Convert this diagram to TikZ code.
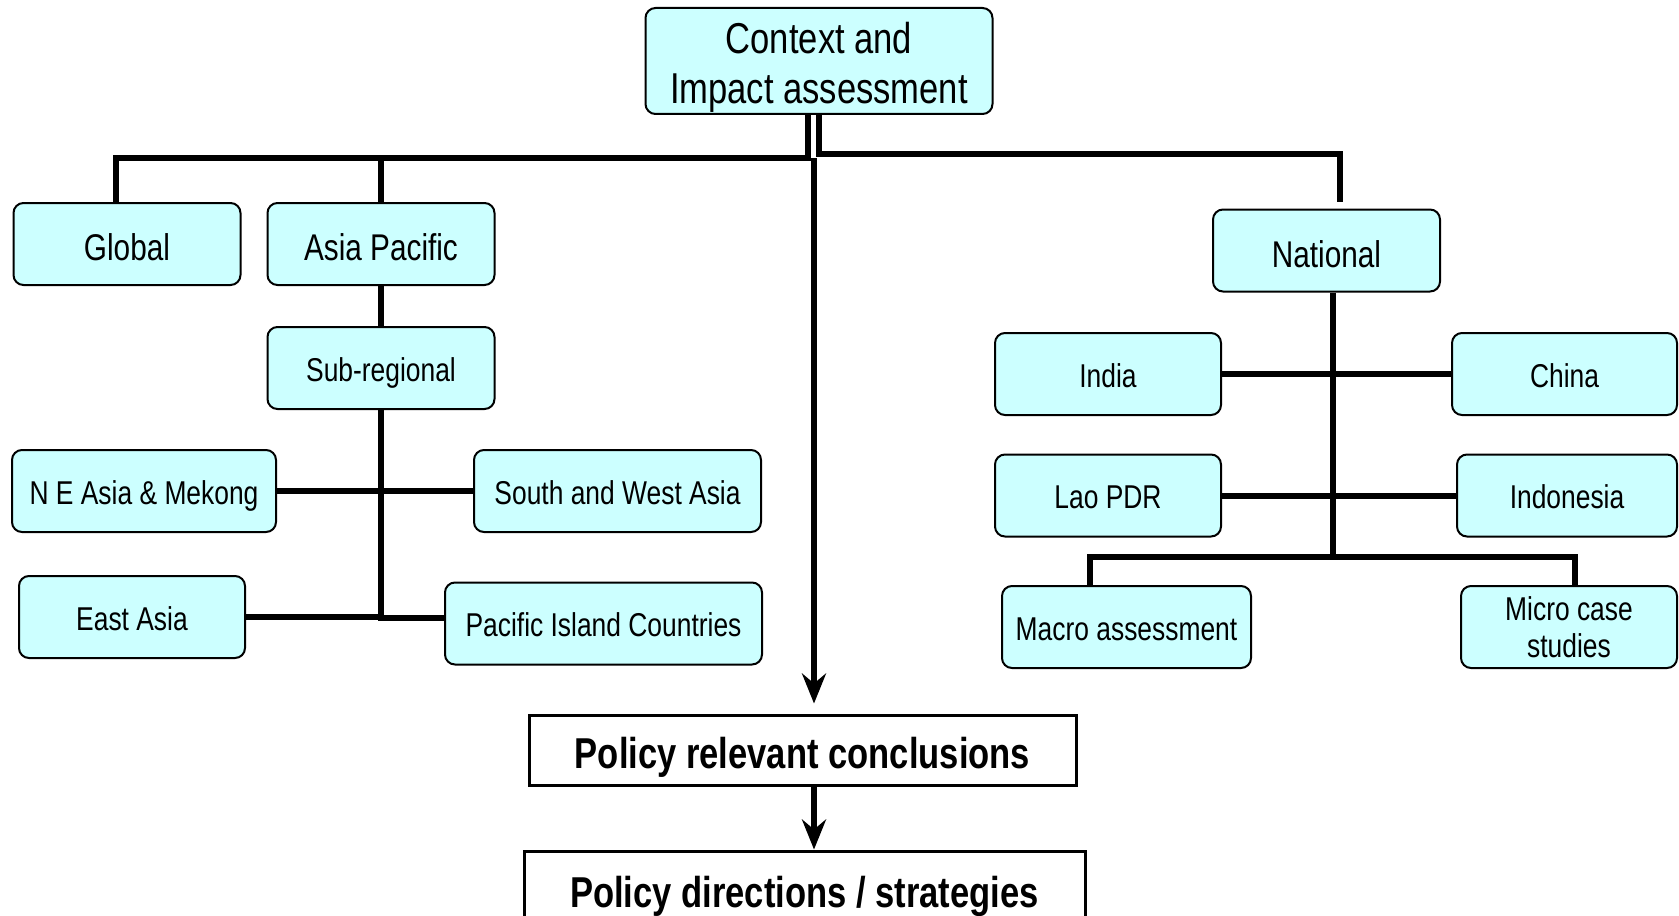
\documentclass[tikz,border=0pt]{standalone}
\usepackage{fontspec}
\setmainfont{Liberation Sans}[FakeStretch=0.8]
\usepackage{xcolor}
\definecolor{boxcyan}{RGB}{204,255,255}
\usepackage{tikz}
\usetikzlibrary{calc,arrows.meta,positioning}

\tikzset{
  level/.style={draw,fill=boxcyan,rounded corners=5pt,line width=1pt,inner sep=0pt,align=center},
  major/.style={level,minimum width=113.5pt,minimum height=41pt,text height=16.5pt,text depth=0pt,
    font=\fontsize{18.6}{21}\selectfont},
  minor/.style={level,minimum height=41pt,text height=13pt,text depth=0pt,
    font=\fontsize{16.5}{18.75}\selectfont},
  policy/.style={draw,fill=white,line width=1.5pt,inner sep=0pt,font=\bfseries\fontsize{21.6}{24}\selectfont},
  link/.style={line width=3pt},
  flow/.style={link,-{Stealth[length=15pt,width=12pt,inset=5pt]}}
}

\begin{document}
\begin{tikzpicture}[x=0.5pt,y=-0.5pt]
  \useasboundingbox (0,0) rectangle (1679,915);

  \node[level,minimum width=173.5pt,minimum height=53pt,font=\fontsize{21.6}{25}\selectfont]
    (ctx) at (819,61) {\rule{0pt}{22.2pt}Context and\\Impact assessment};

  % regional side
  \node[major] (glob) at (127,244) {Global};
  \node[major] (asia) at (381,244) {Asia Pacific};
  \node[minor,minimum width=113.5pt] (sub) at (381,368) {Sub-regional};
  \node[minor,minimum width=132pt] (neasia) at (144,491) {N E Asia \& Mekong};
  \node[minor,minimum width=143.5pt] (swasia) at (617.5,491) {South and West Asia};
  \node[minor,minimum width=113pt] (east) at (132,617) {East Asia};
  \node[minor,minimum width=158.5pt] (pic) at (603.5,623.5) {Pacific Island Countries};

  % national side
  \node[major] (nat) at (1326.5,250.5) {National};
  \node[minor,minimum width=113pt] (india) at (1108,374) {India};
  \node[minor,minimum width=112.5pt] (china) at (1564.5,374) {China};
  \node[minor,minimum width=113pt] (lao) at (1108,495.5) {Lao PDR};
  \node[minor,minimum width=110pt] (indo) at (1567,495.5) {Indonesia};
  \node[minor,minimum width=124.5pt] (macro) at (1126.5,627) {Macro assessment};
  \node[minor,minimum width=108pt,text height=,text depth=] (micro) at (1569,627) {Micro case\\studies};

  % outcomes
  \node[policy,minimum width=273.5pt,minimum height=35pt,text height=18.8pt,text depth=0pt]
    (prc) at (802.5,750) {Policy relevant conclusions};
  \node[policy,minimum width=280.5pt,minimum height=45pt] (pds) at (804.5,896) {Policy directions / strategies};

  \coordinate (busL) at (808,158);
  \coordinate (busR) at (1340,154);
  \coordinate (drop) at (814,158);
  \coordinate (natJ) at (1333,557);

  \draw[link] ([xshift=-5.5pt]ctx.south) -- (busL) -| ([xshift=-5.5pt]glob.north);
  \draw[link] (busL) -| (asia.north);
  \draw[link,shorten >=3.5pt] (ctx.south) |- (busR) -- (busR |- nat.north);

  \draw[link] (asia) -- (sub);
  \draw[link] (sub) |- ([yshift=3pt]pic.west);
  \draw[link] (east) -- (east -| sub);
  \draw[link] (neasia) -- (swasia);

  \draw[link] (nat.south -| natJ) -- (natJ);
  \draw[link] (india) -- (china);
  \draw[link] (lao) -- (indo);
  \draw[link] ([xshift=-18.5pt]macro.north) |- (natJ) -| ([xshift=3pt]micro.north);

  \draw[flow,shorten >=5pt] (drop) -- (drop |- prc.north);
  \draw[flow] (drop |- prc.south) -- (drop |- pds.north);
\end{tikzpicture}
\end{document}
